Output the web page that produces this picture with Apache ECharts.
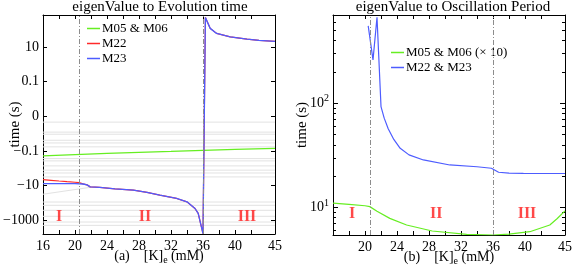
<!DOCTYPE html>
<html><head><meta charset="utf-8">
<script src="https://cdn.jsdelivr.net/npm/echarts@6/dist/echarts.min.js"></script>
<style>html,body{margin:0;padding:0;background:#fff}#c{width:579px;height:267px}</style>
</head><body><div id="c"></div>
<script>
// ---------- Panel (a): eigenValue to Evolution time (symmetric log axis) ----------
const xTicksA = [16, 20, 24, 28, 32, 36, 40, 45];
const xMinorA = [18, 22, 26, 30, 34, 38, 42];
const yTickValsA = [10, 0.1, 0, -0.1, -10, -1000];
const yTickLabelsA = ['10', '0.1', '0', '\u22120.1', '\u221210', '\u22121000'];

const m0506X_A = [16, 20, 24, 28, 32, 36, 40, 45];
const m0506Y_A = [-0.195, -0.165, -0.14, -0.122, -0.107, -0.093, -0.083, -0.072];

const m22X_A = [16, 17, 18, 19, 20, 20.5, 21, 21.5, 21.9, 23.1, 25, 27.3, 29, 30.6, 32.7, 34, 35, 35.4, 35.8, 36.0, 36.3, 36.9, 37.7, 39.4, 41.5, 43, 45];
const m22Y_A = [-4.6, -5.0, -5.5, -6.0, -6.5, -6.8, -8.0, -9.2, -12.0, -13, -15.5, -18.7, -25, -36, -56, -88, -212, -410, -2440, -5900, 500, 117, 60, 38, 28, 24, 20.8];

const m23X_A = [16, 18, 20, 21, 21.5, 21.9, 23.1, 25, 27.3, 29, 30.6, 32.7, 34, 35, 35.4, 35.8, 36.0, 36.3, 36.9, 37.7, 39.4, 41.5, 43, 45];
const m23Y_A = [-7.8, -7.8, -7.9, -8.2, -9.2, -12.0, -13, -15.5, -18.7, -25, -36, -56, -88, -212, -410, -2440, -5900, 500, 117, 60, 38, 28, 24, 20.8];

// other (stable) eigenvalues drawn in light gray
const grayLevelsA = [-0.0022, -0.0083, -0.011, -0.0245, -0.035, -0.059, -0.28, -0.38, -0.74, -1.3, -1.9, -3.2, -90, -139, -270, -600, -1280, -2000];
const grayRiseX_A = [16, 19, 22];
const grayRiseY_A = [-32, -20, -12.6];

const boundariesA = [20.5, 36];
const regionNames = ['I', 'II', 'III'];
const regionX_A = [18, 28.75, 41.5];
const regionY_A = [-680, -680, -680];

// ---------- Panel (b): eigenValue to Oscillation Period (log axis) ----------
const xTicksB = [20, 24, 28, 32, 36, 40, 45];
const yMajorB = [10, 100];
const yMinorB = [6, 7, 8, 9, 20, 30, 40, 50, 60, 70, 80, 90, 200, 300, 400, 500, 600, 700];

const m0506X_B = [16, 18, 20, 20.6, 21.5, 23.1, 25.2, 28.4, 32.7, 36, 38, 40.6, 43.1, 44, 45];
const m0506Y_B = [11.0, 10.7, 10.4, 10.2, 9.2, 7.87, 6.8, 5.95, 5.53, 5.45, 5.55, 5.86, 6.8, 7.8, 9.3];

const m2223X_B = [20.4, 21.0, 21.5, 22.0, 22.4, 22.9, 23.6, 24.4, 25.5, 27.3, 30.6, 34, 35.8, 36.0, 36.7, 38, 39.8, 45];
const m2223Y_B = [552, 261, 669, 93, 72, 57, 45, 37, 32, 28.6, 25.6, 24.6, 23.8, 23.5, 21.8, 21.4, 21.3, 21.2];

const boundariesB = [20.6, 36];
const regionX_B = [18.4, 28.9, 40.25];
const regionY_B = [8.7, 8.7, 8.7];

// ---------- transforms ----------
function sym(v) { if (v === 0) return 0; const s = v > 0 ? 1 : -1; return s * Math.max(0, Math.log10(Math.abs(v)) + 3) / 2; }
const lg = Math.log10;

const FONT = 'Liberation Serif';
const GREEN = '#66ee22', RED = '#ff2a2a', BLUE = '#4d5cff', GRAY = '#e2e2e2', DASH = '#8c8c8c';

const yMinA = sym(-6300), yMaxA = sym(692);
const yMinB = lg(5.45), yMaxB = lg(703);

function pairs(xs, ys, f) { return xs.map((x, i) => [x, f(ys[i])]); }

const series = [];
grayLevelsA.forEach((v, i) => series.push({
  type: 'line', name: 'g' + i, xAxisIndex: 0, yAxisIndex: 0, symbol: 'none', silent: true,
  lineStyle: { color: GRAY, width: 1 }, data: [[16, sym(v)], [45, sym(v)]], z: 1
}));
series.push({ type: 'line', name: 'grise', xAxisIndex: 0, yAxisIndex: 0, symbol: 'none', silent: true,
  lineStyle: { color: GRAY, width: 1 }, data: pairs(grayRiseX_A, grayRiseY_A, sym), z: 1 });
series.push({ type: 'line', name: 'bndA', xAxisIndex: 0, yAxisIndex: 0, data: [], symbol: 'none',
  markLine: { silent: true, symbol: 'none', label: { show: false },
    lineStyle: { color: DASH, width: 1, type: [5, 2, 1, 2] }, data: boundariesA.map(x => ({ xAxis: x })) } });
series.push({ type: 'line', name: 'bndB', xAxisIndex: 2, yAxisIndex: 2, data: [], symbol: 'none',
  markLine: { silent: true, symbol: 'none', label: { show: false },
    lineStyle: { color: DASH, width: 1, type: [5, 2, 1, 2] }, data: boundariesB.map(x => ({ xAxis: x })) } });
series.push({ type: 'line', name: 'M05 & M06', xAxisIndex: 0, yAxisIndex: 0, symbol: 'none',
  lineStyle: { color: GREEN, width: 1.2 }, itemStyle: { color: GREEN }, data: pairs(m0506X_A, m0506Y_A, sym), z: 3 });
series.push({ type: 'line', name: 'M22', xAxisIndex: 0, yAxisIndex: 0, symbol: 'none',
  lineStyle: { color: RED, width: 1.2 }, itemStyle: { color: RED }, data: pairs(m22X_A, m22Y_A, sym), z: 3 });
series.push({ type: 'line', name: 'M23', xAxisIndex: 0, yAxisIndex: 0, symbol: 'none',
  lineStyle: { color: BLUE, width: 1.3 }, itemStyle: { color: BLUE }, data: pairs(m23X_A, m23Y_A, sym), z: 4 });
series.push({ type: 'line', name: 'M05 & M06 (\u00d7 10)', xAxisIndex: 2, yAxisIndex: 2, symbol: 'none',
  lineStyle: { color: GREEN, width: 1.2 }, itemStyle: { color: GREEN }, data: pairs(m0506X_B, m0506Y_B, lg), z: 3 });
series.push({ type: 'line', name: 'M22 & M23', xAxisIndex: 2, yAxisIndex: 2, symbol: 'none',
  lineStyle: { color: BLUE, width: 1.2 }, itemStyle: { color: BLUE }, data: pairs(m2223X_B, m2223Y_B, lg), z: 3 });
const regLabel = { show: true, position: 'inside', formatter: p => p.data.n,
  color: '#ff1a1a', fontFamily: FONT, fontWeight: 'bold', fontSize: 16 };
series.push({ type: 'scatter', name: 'regA', xAxisIndex: 0, yAxisIndex: 0, symbolSize: 0, silent: true,
  label: regLabel, data: regionNames.map((n, i) => ({ value: [regionX_A[i], sym(regionY_A[i])], n })) });
series.push({ type: 'scatter', name: 'regB', xAxisIndex: 2, yAxisIndex: 2, symbolSize: 0, silent: true,
  label: regLabel, data: regionNames.map((n, i) => ({ value: [regionX_B[i], lg(regionY_B[i])], n })) });

const lab = { fontFamily: FONT, fontSize: 14, color: '#000' };
const axLine = { show: true, onZero: false, lineStyle: { color: '#000', width: 1 } };

function xAx(grid, pos, labels, ticks, name) {
  return {
    type: 'value', gridIndex: grid, position: pos, min: 16, max: 45,
    axisLine: axLine, splitLine: { show: false },
    axisTick: { show: true, inside: true, length: 4, customValues: ticks, lineStyle: { color: '#000' } },
    axisLabel: labels ? { show: true, customValues: labels, margin: 5, ...lab } : { show: false },
    name: name || '', nameLocation: 'middle', nameGap: 13, nameMoveOverlap: false,
    nameTextStyle: { ...lab, rich: {
      t: { fontFamily: FONT, fontSize: 14, color: '#000' },
      g: { width: 14 },
      s: { fontFamily: FONT, fontSize: 10, padding: [8, 0, 0, 0], color: '#000' } } }
  };
}

const legendText = { fontFamily: FONT, fontSize: 13, color: '#000', padding: [0, 0, 0, -3] };
const option = {
  animation: false,
  backgroundColor: '#fff',
  textStyle: { fontFamily: FONT },
  title: [
    { text: 'eigenValue to Evolution time', left: 160, top: 0, textAlign: 'center', padding: 0,
      textStyle: { fontFamily: FONT, fontSize: 15, fontWeight: 'normal', color: '#000' } },
    { text: 'eigenValue to Oscillation Period', left: 453, top: 0, textAlign: 'center', padding: 0,
      textStyle: { fontFamily: FONT, fontSize: 15, fontWeight: 'normal', color: '#000' } }
  ],
  legend: [
    { left: 87, top: 22, orient: 'vertical', itemGap: 2, itemWidth: 13, itemHeight: 1.5, icon: 'rect', padding: 0,
      data: ['M05 & M06', 'M22', 'M23'], textStyle: legendText },
    { left: 391, top: 46, orient: 'vertical', itemGap: 2, itemWidth: 13, itemHeight: 1.5, icon: 'rect', padding: 0,
      data: ['M05 & M06 (\u00d7 10)', 'M22 & M23'], textStyle: legendText }
  ],
  grid: [
    { left: 43, top: 15, width: 232, height: 219, show: false, containLabel: false, outerBoundsMode: 'none' },
    { left: 333, top: 15, width: 232, height: 220, show: false, containLabel: false, outerBoundsMode: 'none' }
  ],
  xAxis: [
    xAx(0, 'bottom', xTicksA, xTicksA.concat(xMinorA), '{t|(a)}{g|}{t|[K]}{s|e}{t| (mM)}'),
    xAx(0, 'top', null, xTicksA.concat(xMinorA)),
    xAx(1, 'bottom', xTicksB, xTicksB.concat(xMinorA), '{t|(b)}{g|}{t|[K]}{s|e}{t| (mM)}'),
    xAx(1, 'top', null, xTicksB.concat(xMinorA))
  ],
  yAxis: [
    { type: 'value', gridIndex: 0, position: 'left', min: yMinA, max: yMaxA,
      axisLine: axLine, splitLine: { show: false },
      axisTick: { show: true, inside: true, length: 4, customValues: yTickValsA.map(sym), lineStyle: { color: '#000' } },
      axisLabel: { show: true, customValues: yTickValsA.map(sym), margin: 4, ...lab,
        formatter: v => { const i = yTickValsA.map(sym).findIndex(t => Math.abs(t - v) < 1e-6); return i >= 0 ? yTickLabelsA[i] : ''; } },
      name: 'time (s)', nameLocation: 'middle', nameGap: 20, nameMoveOverlap: false, nameTextStyle: { ...lab, fontSize: 15 } },
    { type: 'value', gridIndex: 0, position: 'right', min: yMinA, max: yMaxA,
      axisLine: axLine, splitLine: { show: false }, axisLabel: { show: false },
      axisTick: { show: true, inside: true, length: 4, customValues: yTickValsA.map(sym), lineStyle: { color: '#000' } } },
    { type: 'value', gridIndex: 1, position: 'left', min: yMinB, max: yMaxB,
      axisLine: axLine, splitLine: { show: false },
      axisTick: { show: true, inside: true, length: 5, customValues: yMajorB.map(lg), lineStyle: { color: '#000' } },
      axisLabel: { show: true, customValues: yMajorB.map(lg), margin: 4, ...lab,
        formatter: v => '{b|10}{p|' + Math.round(v) + '}',
        rich: { b: { fontFamily: FONT, fontSize: 14, color: '#000' },
                p: { fontFamily: FONT, fontSize: 10, padding: [0, 0, 9, 0], color: '#000' } } },
      name: 'time (s)', nameLocation: 'middle', nameGap: 23, nameMoveOverlap: false, nameTextStyle: { ...lab, fontSize: 15 } },
    { type: 'value', gridIndex: 1, position: 'right', min: yMinB, max: yMaxB,
      axisLine: axLine, splitLine: { show: false }, axisLabel: { show: false },
      axisTick: { show: true, inside: true, length: 5, customValues: yMajorB.map(lg), lineStyle: { color: '#000' } } },
    { type: 'value', gridIndex: 1, position: 'left', min: yMinB, max: yMaxB,
      axisLine: { show: false }, splitLine: { show: false }, axisLabel: { show: false },
      axisTick: { show: true, inside: true, length: 3, customValues: yMinorB.map(lg), lineStyle: { color: '#000' } } },
    { type: 'value', gridIndex: 1, position: 'right', min: yMinB, max: yMaxB,
      axisLine: { show: false }, splitLine: { show: false }, axisLabel: { show: false },
      axisTick: { show: true, inside: true, length: 3, customValues: yMinorB.map(lg), lineStyle: { color: '#000' } } }
  ],
  series
};
const chart = echarts.init(document.getElementById('c'), null, { renderer: 'canvas' });
chart.setOption(option);
</script></body></html>
